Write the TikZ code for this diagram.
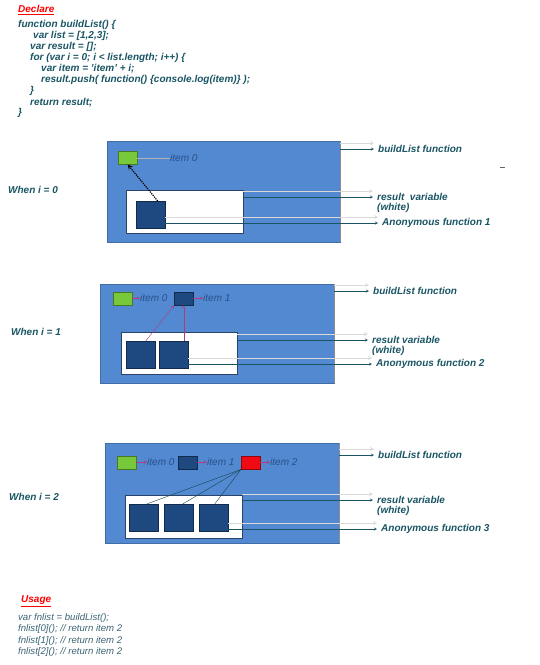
\documentclass[tikz,border=0pt]{standalone}
\usepackage{fontspec}
\setmainfont{Liberation Sans}
\definecolor{codeteal}{RGB}{25,85,100}
\definecolor{usetxt}{RGB}{60,100,115}
\definecolor{panelblue}{RGB}{82,137,208}
\definecolor{boxblue}{RGB}{30,72,128}
\definecolor{itemgreen}{RGB}{120,200,60}
\definecolor{itemred}{RGB}{240,10,20}
\definecolor{itemblue}{RGB}{40,80,140}
\begin{document}
\begin{tikzpicture}[x=1pt, y=-1pt, >=stealth,
	code/.style={anchor=west, inner sep=0, text=codeteal, font=\fontsize{10}{11}\selectfont\bfseries\itshape},
	usage/.style={anchor=west, inner sep=0, text=usetxt, font=\fontsize{9.6}{11}\selectfont\itshape},
	head/.style={anchor=west, inner sep=0, text=red, font=\fontsize{10}{11}\selectfont\bfseries\itshape},
	panel/.style={anchor=north west, inner sep=0, fill=panelblue, draw=panelblue!80!black},
	holder/.style={anchor=north west, inner sep=0, fill=white, draw=panelblue!50!black},
	fnbox/.style={anchor=north west, inner sep=0, minimum width=29pt, minimum height=27pt, fill=boxblue, draw=boxblue!60!black},
	itembox/.style={anchor=north west, inner sep=0, minimum width=19pt, minimum height=13pt, fill=#1, draw=#1!60!black},
	itemtext/.style={anchor=west, inner sep=0, text=itemblue, font=\fontsize{10}{11}\selectfont\itshape},
	link/.style={->, codeteal, thin, shorten >=4pt},
	ghost/.style={->, black!15, thick, shorten >=4pt},
	ref/.style={->, magenta!70!black, thin},
	tie/.style={codeteal!80!black, thin}]
\useasboundingbox (0,0) rectangle (540,665);

% declare
\node[head] (declare) at (18,10) {\underline{Declare}};
\foreach \x/\y/\t in {18/25/{function buildList() \{},
	33/36/{var list = [1,2,3];},
	30/47/{var result = [];},
	30/58/{for (var i = 0; i < list.length; i++) \{},
	41/69/{var item = 'item' + i;},
	41/80/{result.push( function() \{console.log(item)\} );},
	30/91/{\}},
	30/103/{return result;},
	18/113/{\}}}
	\node[code] (code\y) at (\x,\y) {\t};

% when i = 0
\node[code] (when0) at (8,190) {When i = 0};
\node[panel, minimum width=233pt, minimum height=101pt] (p1) at (107,141) {};
\draw[black!45, thick] (p1.north east) -- (p1.south east);
\node[holder, minimum width=117pt, minimum height=43pt] (h1) at (126,190) {};
\node[fnbox] (f11) at (136,201) {};
\node[itembox=itemgreen] (g1) at (118,151) {};
\node[itemtext] (t10) at (170,158) {item 0};
\draw[black!30] (g1.east |- t10) -- (t10.west);
\draw[->, very thick, densely dotted] ([xshift=7pt]f11.north) -- (g1.south);
\node[code] (b1) at (378,149) {buildList function};
\node[code] (r1) at (377,197) {result\ \ variable};
\node[code] (w1) at (377,208) {(white)};
\node[code] (a1) at (382,223) {Anonymous function 1};
\draw[ghost] ([yshift=6pt]p1.east |- b1.west) -- ([yshift=6pt]b1.west);
\draw[ghost] ([yshift=6pt]h1.east |- r1.west) -- ([yshift=6pt]r1.west);
\draw[ghost] ([yshift=6pt]f11.east |- a1.west) -- ([yshift=6pt]a1.west);
\draw[link] (p1.east |- b1.west) -- (b1.west);
\draw[link] (h1.east |- r1.west) -- (r1.west);
\draw[link] (f11.east |- a1.west) -- (a1.west);
\draw[black!60] (500,167) -- (505,167);

% when i = 1
\node[code] (when1) at (11,332) {When i = 1};
\node[panel, minimum width=234pt, minimum height=99pt] (p2) at (100,284) {};
\draw[black!45, thick] (p2.north east) -- (p2.south east);
\node[holder, minimum width=116pt, minimum height=42pt] (h2) at (121,332) {};
\foreach \i/\x in {1/126,2/159}
	\node[fnbox] (f2\i) at (\x,341) {};
\node[itembox=itemgreen] (g2) at (113,292) {};
\node[itemtext] (t20) at (140,298) {item 0};
\node[itembox=boxblue] (k2) at (174,292) {};
\node[itemtext] (t21) at (203,298) {item 1};
\draw[ref] (g2.east |- t20) -- (t20.west);
\draw[ref] (k2.east |- t21) -- (t21.west);
\draw[ref] ([xshift=5pt]f21.north) -- (k2.south west);
\draw[ref] (f22.north -| k2.south) -- (k2.south);
\node[code] (b2) at (373,291) {buildList function};
\node[code] (r2) at (372,340) {result variable};
\node[code] (w2) at (372,351) {(white)};
\node[code] (a2) at (376,364) {Anonymous function 2};
\draw[ghost] ([yshift=6pt]p2.east |- b2.west) -- ([yshift=6pt]b2.west);
\draw[ghost] ([yshift=6pt]h2.east |- r2.west) -- ([yshift=6pt]r2.west);
\draw[ghost] ([yshift=6pt]f22.east |- a2.west) -- ([yshift=6pt]a2.west);
\draw[link] (p2.east |- b2.west) -- (b2.west);
\draw[link] (h2.east |- r2.west) -- (r2.west);
\draw[link] (f22.east |- a2.west) -- (a2.west);

% when i = 2
\node[code] (when2) at (9,497) {When i = 2};
\node[panel, minimum width=234pt, minimum height=100pt] (p3) at (105,443) {};
\draw[black!45, thick] (p3.north east) -- (p3.south east);
\node[holder, minimum width=117pt, minimum height=43pt] (h3) at (125,495) {};
\foreach \i/\x in {1/129,2/164,3/199}
	\node[fnbox] (f3\i) at (\x,504) {};
\node[itembox=itemgreen] (g3) at (117,456) {};
\node[itemtext] (t30) at (147,462) {item 0};
\node[itembox=boxblue] (k3) at (178,456) {};
\node[itemtext] (t31) at (207,462) {item 1};
\node[itembox=itemred] (e3) at (241,456) {};
\node[itemtext] (t32) at (270,462) {item 2};
\draw[ref] (g3.east |- t30) -- (t30.west);
\draw[ref] (k3.east |- t31) -- (t31.west);
\draw[ref] (e3.east |- t32) -- (t32.west);
\foreach \i/\s in {1/3,2/4,3/1}
	\draw[tie] (e3.south west) -- ([xshift=\s pt]f3\i.north);
\node[code] (b3) at (378,455) {buildList function};
\node[code] (r3) at (377,500) {result variable};
\node[code] (w3) at (377,511) {(white)};
\node[code] (a3) at (381,529) {Anonymous function 3};
\draw[ghost] ([yshift=6pt]p3.east |- b3.west) -- ([yshift=6pt]b3.west);
\draw[ghost] ([yshift=6pt]h3.east |- r3.west) -- ([yshift=6pt]r3.west);
\draw[ghost] ([yshift=6pt]f33.east |- a3.west) -- ([yshift=6pt]a3.west);
\draw[link] (p3.east |- b3.west) -- (b3.west);
\draw[link] (h3.east |- r3.west) -- (r3.west);
\draw[link] (f33.east |- a3.west) -- (a3.west);

% usage
\node[head] (usage) at (21,601) {\underline{Usage}};
\foreach \y/\t in {618/{var fnlist = buildList();},
	629/{fnlist[0](); // return item 2},
	641/{fnlist[1](); // return item 2},
	652/{fnlist[2](); // return item 2}}
	\node[usage] (use\y) at (18,\y) {\t};
\end{tikzpicture}
\end{document}
